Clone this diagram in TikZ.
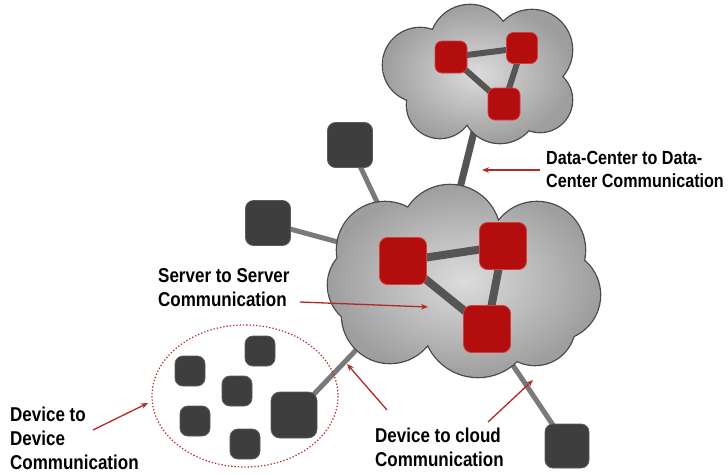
\documentclass[tikz,border=0pt]{standalone}
\usepackage{fontspec}
\setmainfont{Liberation Sans}[FakeStretch=0.85]
\usetikzlibrary{arrows.meta}
\definecolor{srvred}{HTML}{B30D0D}
\definecolor{srvedge}{HTML}{D04040}
\definecolor{devgray}{HTML}{3E3E3E}
\definecolor{devedge}{HTML}{5C5C5C}
\definecolor{linkgray}{HTML}{555555}
\definecolor{wiregray}{HTML}{7A7A7A}
\definecolor{cloudedge}{HTML}{4A4A4A}
\definecolor{arrred}{HTML}{B42828}
\definecolor{cloudin}{HTML}{DCDCDC}
\definecolor{cloudout}{HTML}{9E9E9E}
\pgfdeclarelayer{wires}
\pgfdeclarelayer{clouds}
\pgfdeclarelayer{links}
\pgfsetlayers{wires,clouds,links,main}
\tikzset{
  server/.style={draw=srvedge, line width=0.8pt, fill=srvred, rounded corners=8pt, minimum size=#1, inner sep=0pt},
  device/.style={draw=devedge, line width=0.8pt, fill=devgray, rounded corners=8pt, minimum size=#1, inner sep=0pt},
  link/.style={linkgray, line width=#1},
  wire/.style={wiregray, line width=5pt},
  lbl/.style={anchor=north west, align=left, inner sep=0pt, font=\fontsize{20}{24}\selectfont\bfseries},
  callout/.style={arrred, line width=1.3pt, -{Stealth[length=7pt,width=5.5pt]}},
  cloudline/.style={draw=cloudedge, line width=2.6pt},
  cloudfill/.style={inner color=cloudin, outer color=cloudout},
}
\def\maincloud{385/250/48, 450/235/50, 537/250/48, 555/295/45, 535/325/40, 478/322/55, 390/315/48, 370/285/42}
\def\topcloud{420/65/37, 470/45/40, 532/50/40, 540/100/32, 500/105/38, 440/105/33}
\begin{document}
\begin{tikzpicture}[x=1pt,y=-1pt]
\useasboundingbox (0,0) rectangle (728,474);

% server nodes
\node[server=47pt] (s1) at (403,261) {};
\node[server=47pt] (s2) at (503,246) {};
\node[server=47pt] (s3) at (487,329) {};
\node[server=32pt, rounded corners=7pt] (t1) at (451,57) {};
\node[server=31pt, rounded corners=7pt] (t2) at (522,48) {};
\node[server=32pt, rounded corners=7pt] (t3) at (504,104) {};

% device nodes
\node[device=45pt] (d1) at (350,145) {};
\node[device=45pt] (d2) at (268,223) {};
\node[device=44pt] (d3) at (567,446) {};
\node[device=46pt, rounded corners=9pt] (d4) at (294,415) {};
\node[device=30pt] (c1) at (190,371) {};
\node[device=30pt] (c2) at (260,351) {};
\node[device=30pt] (c3) at (237,391) {};
\node[device=30pt] (c4) at (195,421) {};
\node[device=30pt] (c5) at (245,444) {};

% anchor points inside the clouds
\coordinate (e1) at (395,240);
\coordinate (e2) at (360,248);
\coordinate (e3) at (500,346);
\coordinate (e4) at (380,325);
\coordinate (ta) at (482,100);
\coordinate (mb) at (452,220);

\begin{pgfonlayer}{wires}
  \draw[wire] (d1.center) -- (e1);
  \draw[wire] (d2.center) -- (e2);
  \draw[wire] (d3.center) -- (e3);
  \draw[wire] (d4.center) -- (e4);
  \draw[link=7pt] (ta) -- (mb);
\end{pgfonlayer}

\begin{pgfonlayer}{clouds}
  \path[cloudline] foreach \a/\b/\r in \maincloud {(\a,\b) circle[radius=\r]}
       (465,285) ellipse[x radius=110, y radius=60];
  \shade[cloudfill] foreach \a/\b/\r in \maincloud {(\a,\b) circle[radius=\r]}
       (465,285) ellipse[x radius=110, y radius=60];
  \path[cloudline] foreach \a/\b/\r in \topcloud {(\a,\b) circle[radius=\r]}
       (478,75) ellipse[x radius=75, y radius=45];
  \shade[cloudfill] foreach \a/\b/\r in \topcloud {(\a,\b) circle[radius=\r]}
       (478,75) ellipse[x radius=75, y radius=45];
\end{pgfonlayer}

\begin{pgfonlayer}{links}
  \draw[link=8pt] (s1.center) -- (s2.center);
  \draw[link=8pt] (s1.center) -- (s3.center);
  \draw[link=8pt] (s2.center) -- (s3.center);
  \draw[link=6pt] (t1.center) -- (t2.center);
  \draw[link=6pt] (t1.center) -- (t3.center);
  \draw[link=6pt] (t2.center) -- (t3.center);
\end{pgfonlayer}

% device-to-device group
\draw[arrred, line width=1.2pt, dash pattern=on 1.3pt off 2pt] (245,396) ellipse[x radius=93, y radius=71];

% labels
\node[lbl, font=\fontsize{19}{23}\selectfont\bfseries] (ldc) at (546,151) {Data-Center to Data-\\Center Communication};
\node[lbl] (lss) at (158,268) {Server to Server\\Communication};
\node[lbl] (ldd) at (10,407) {Device to\\Device\\Communication};
\node[lbl] (ldcl) at (375,428) {Device to cloud\\Communication};

% callout arrows
\coordinate (a1s) at (540,170); \coordinate (a1e) at (482,170);
\coordinate (a2s) at (300,302); \coordinate (a2e) at (428,307);
\coordinate (a3s) at (93,430);  \coordinate (a3e) at (148,403);
\coordinate (a4s) at (387,410); \coordinate (a4e) at (347,364);
\coordinate (a5s) at (488,422); \coordinate (a5e) at (533,380);
\draw[callout] (a1s) -- (a1e);
\draw[callout] (a2s) -- (a2e);
\draw[callout] (a3s) -- (a3e);
\draw[callout] (a4s) -- (a4e);
\draw[callout] (a5s) -- (a5e);
\end{tikzpicture}
\end{document}
